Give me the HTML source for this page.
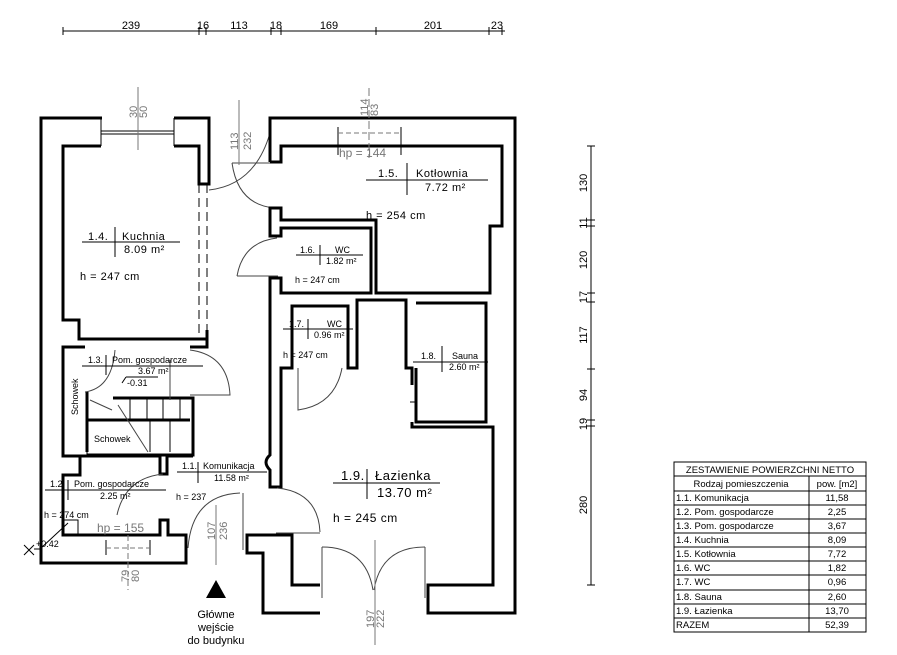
<!DOCTYPE html>
<html><head><meta charset="utf-8"><style>
html,body{margin:0;padding:0;background:#fff}
svg{display:block}
text{font-family:"Liberation Sans",sans-serif;fill:#000}
.w{fill:none;stroke:#000;stroke-width:3;stroke-linejoin:miter}
.t{fill:none;stroke:#000;stroke-width:1}
.g{fill:none;stroke:#777;stroke-width:1}
.a{fill:none;stroke:#444;stroke-width:1}
.gt{fill:#777}
</style></head><body>
<svg width="897" height="655" viewBox="0 0 897 655" xmlns="http://www.w3.org/2000/svg">
<!-- top dimension -->
<line class="t" x1="63" y1="31" x2="505" y2="31"/>
<g class="t">
<path d="M63,27V35M199,27V35M206,27V35M271,27V35M281,27V35M376,27V35M489,27V35M502,27V35"/>
</g>
<g font-size="11" text-anchor="middle">
<text x="131" y="29">239</text><text x="203" y="29">16</text><text x="239" y="29">113</text><text x="276" y="29">18</text><text x="329" y="29">169</text><text x="433" y="29">201</text><text x="497" y="29">23</text>
</g>
<!-- right dimension -->
<line class="t" x1="591" y1="146" x2="591" y2="585"/>
<path class="t" d="M587,146H595M587,220H595M587,226H595M587,293H595M587,302H595M587,369H595M587,420H595M587,426H595M587,585H595"/>
<g font-size="11" text-anchor="middle">
<text transform="translate(587,183) rotate(-90)">130</text>
<text transform="translate(587,223) rotate(-90)">11</text>
<text transform="translate(587,260) rotate(-90)">120</text>
<text transform="translate(587,297) rotate(-90)">17</text>
<text transform="translate(587,335) rotate(-90)">117</text>
<text transform="translate(587,395) rotate(-90)">94</text>
<text transform="translate(587,424) rotate(-90)">19</text>
<text transform="translate(587,505) rotate(-90)">280</text>
</g>

<!-- LEFT BLOCK walls -->
<path class="w" d="M102,118H41V563H186V535H168V520H160V535H63V475H80V456H63V347H85"/>
<path class="w" d="M174,118H209V184H199V146H174"/>
<path class="w" d="M101,146H63V320H79V339H207V330"/>
<path class="t" d="M101,118V146M174,118V146M101,131H174M101,134H174"/>
<path class="t" d="M199,184V339M207,184V339" stroke-dasharray="9,5"/>
<path class="w" d="M190,347H207V339"/>
<path class="w" d="M87,392V452M113,398H193V455H87M87,420H190M80,456H160V474H167V456H193"/>
<path class="t" d="M87,452V455"/>
<path class="t" d="M130,398V420M147,398V420M163,398V420M180,398V420M150,420V452M170,420V452"/>
<path class="a" d="M118,405L148,452M90,400L112,410"/>
<path class="a" d="M190,350 Q228,355 230,395 L190,395"/>
<path class="a" d="M85,392 Q112,388 115,350"/>
<path class="a" d="M170,360V400"/>
<path class="t" d="M126,377H158M126,377L122,383"/>
<rect class="t" x="63" y="520" width="15" height="15"/>
<path class="t" d="M106,540V555M150,540V555"/>
<path class="g" d="M106,548H150" stroke-dasharray="5,3"/>
<path class="g" d="M128,535V590" stroke-dasharray="6,3"/>
<path class="t" d="M24,545L34,555M24,555L34,545M34,549L40,549L68,523"/>
<!-- kitchen window dim -->
<path class="g" d="M138,87V150"/>
<g font-size="11" class="gt"><text transform="translate(137,118) rotate(-90)" class="gt">30</text><text transform="translate(147,118) rotate(-90)" class="gt">50</text></g>
<!-- entrance door -->
<path class="a" d="M188,548 Q192,495 240,493 M243,493V550"/>
<path class="g" d="M216,505V565"/>
<g font-size="11"><text transform="translate(215,540) rotate(-90)" class="gt">107</text><text transform="translate(227,540) rotate(-90)" class="gt">236</text></g>
<path class="a" d="M117,515 Q125,478 163,474"/>
<!-- kitchen/kotlownia door -->
<path class="a" d="M209,190 Q255,185 270,133 M232,163 Q238,205 275,208 M232,163H278"/>
<path class="g" d="M239,100V165"/>
<g font-size="11"><text transform="translate(238,150) rotate(-90)" class="gt">113</text><text transform="translate(251,150) rotate(-90)" class="gt">232</text></g>

<!-- RIGHT BLOCK walls -->
<path class="w" d="M270,162V118H515V613H428V585H493V427H412V422"/>
<path class="w" d="M270,162H281V146H502V226H490V293H376V220H281V208H270V236H281V228H371V293H281V278H270V455Q262,462 270,470V487H281V368H292V306H348V368H357V300H406V368H412V385"/>
<path class="w" d="M416,303H486V422H416V368"/>
<path class="w" d="M320,613H263V553H247V535H292V585H320"/>
<path class="t" d="M338,127V155M401,127V155"/>
<path class="g" d="M338,133H401" stroke-dasharray="5,3"/>
<path class="g" d="M369,88V158" stroke-dasharray="8,3"/>
<g font-size="11"><text transform="translate(368,116) rotate(-90)" class="gt">114</text><text transform="translate(378,116) rotate(-90)" class="gt">83</text></g>
<text x="339" y="157" font-size="12" class="gt">hp = 144</text>
<!-- doors right -->
<path class="a" d="M277,238 Q243,242 237,276 M237,276H278"/>
<path class="a" d="M298,368V410 Q335,405 342,368"/>
<path class="a" d="M277,488 Q318,492 320,532 M276,533H320"/>
<path class="a" d="M322,547 Q366,547 373,590 M425,547 Q381,547 374,590"/>
<path class="a" d="M322,547V598M425,547V598"/>
<path class="g" d="M375,540V645"/>
<g font-size="11"><text transform="translate(374,628) rotate(-90)" class="gt">197</text><text transform="translate(384,628) rotate(-90)" class="gt">222</text></g>
<path class="t" d="M410,402H416"/>

<!-- labels -->
<g font-size="11" letter-spacing="0.5">
<path class="t" d="M82,242H180M115,227V257"/>
<text x="88" y="240">1.4.</text><text x="122" y="240">Kuchnia</text><text x="124" y="253">8.09 m²</text>
<text x="80" y="280">h = 247 cm</text>
<path class="t" d="M366,180H488M407,163V195"/>
<text x="378" y="177">1.5.</text><text x="416" y="177">Kotłownia</text><text x="425" y="191">7.72 m²</text>
<text x="366" y="219">h = 254 cm</text>
<path class="t" d="M333,483H440M367,469V499"/>
</g>
<g font-size="9">
<path class="t" d="M296,255H363M320,245V265"/>
<text x="300" y="253">1.6.</text><text x="335" y="253">WC</text><text x="326" y="264">1.82 m²</text>
<text x="295" y="283">h = 247 cm</text>
<path class="t" d="M283,329H353M308,319V339"/>
<text x="289" y="327">1.7.</text><text x="327" y="327">WC</text><text x="314" y="338">0.96 m²</text>
<text x="283" y="358">h = 247 cm</text>
<path class="t" d="M413,362H488M442,346V372"/>
<text x="421" y="359">1.8.</text><text x="452" y="359">Sauna</text><text x="449" y="370">2.60 m²</text>
<path class="t" d="M177,472H267M198,462V483"/>
<text x="182" y="469">1.1.</text><text x="203" y="469">Komunikacja</text><text x="214" y="481">11.58 m²</text>
<text x="176" y="500">h = 237</text>
<path class="t" d="M45,490H166M68,480V500"/>
<text x="50" y="487">1.2.</text><text x="74" y="487">Pom. gospodarcze</text><text x="100" y="499">2.25 m²</text>
<text x="44" y="518">h = 274 cm</text>
<path class="t" d="M82,366H203M106,355V375"/>
<text x="88" y="363">1.3.</text><text x="112" y="363">Pom. gospodarcze</text><text x="138" y="374">3.67 m²</text>
<text x="127" y="386">-0.31</text>
<text x="36" y="547">+0.42</text>
<text transform="translate(78,415) rotate(-90)">Schowek</text>
<text x="94" y="442">Schowek</text>
</g>
<text x="341" y="480" font-size="13" letter-spacing="0.5">1.9.</text>
<text x="375" y="480" font-size="13" letter-spacing="0.5">Łazienka</text>
<text x="377" y="497" font-size="13" letter-spacing="0.5">13.70 m²</text>
<text x="333" y="522" font-size="12" letter-spacing="0.5">h = 245 cm</text>
<text x="97" y="532" font-size="12" class="gt">hp = 155</text>
<g font-size="11"><text transform="translate(129,582) rotate(-90)" class="gt">79</text><text transform="translate(139,582) rotate(-90)" class="gt">80</text></g>

<!-- entrance -->
<polygon points="216,580 206,598 226,598" fill="#000"/>
<g font-size="11" text-anchor="middle">
<text x="216" y="618">Główne</text><text x="216" y="631">wejście</text><text x="216" y="644">do budynku</text>
</g>

<!-- table -->
<g>
<rect class="t" x="674" y="462" width="192" height="170"/>
<path class="t" d="M674,476H866M674,491H866M674,505H866M674,519H866M674,533H866M674,547H866M674,561H866M674,575H866M674,590H866M674,604H866M674,618H866M809,476V632"/>
<g font-size="9.5">
<text x="770" y="473" text-anchor="middle">ZESTAWIENIE POWIERZCHNI NETTO</text>
<text x="741" y="487" text-anchor="middle">Rodzaj pomieszczenia</text>
<text x="837" y="487" text-anchor="middle">pow. [m2]</text>
<text x="676" y="501">1.1. Komunikacja</text>
<text x="676" y="515">1.2. Pom. gospodarcze</text>
<text x="676" y="529">1.3. Pom. gospodarcze</text>
<text x="676" y="543">1.4. Kuchnia</text>
<text x="676" y="557">1.5. Kotłownia</text>
<text x="676" y="571">1.6. WC</text>
<text x="676" y="585">1.7. WC</text>
<text x="676" y="600">1.8. Sauna</text>
<text x="676" y="614">1.9. Łazienka</text>
<text x="676" y="628">RAZEM</text>
<g text-anchor="middle">
<text x="837" y="501">11,58</text><text x="837" y="515">2,25</text><text x="837" y="529">3,67</text><text x="837" y="543">8,09</text><text x="837" y="557">7,72</text><text x="837" y="571">1,82</text><text x="837" y="585">0,96</text><text x="837" y="600">2,60</text><text x="837" y="614">13,70</text><text x="837" y="628">52,39</text>
</g>
</g>
</g>
</svg>
</body></html>
